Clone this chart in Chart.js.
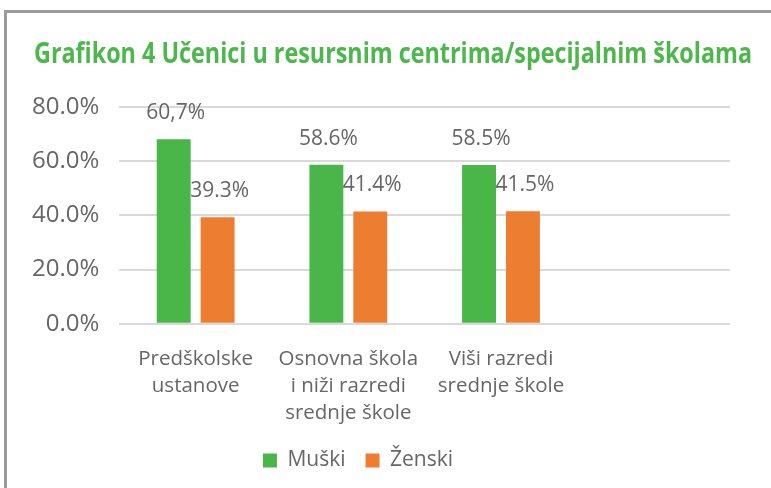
<!DOCTYPE html>
<html>
<head>
<meta charset="utf-8">
<script src="https://cdn.jsdelivr.net/npm/chart.js@4"></script>
<style>
  html, body { margin: 0; padding: 0; background: #fff; }
  #frame {
    position: absolute; left: 4px; top: 10px; width: 800px; height: 500px;
    border-left: 3px solid #9b9b9b; border-top: 3px solid #9b9b9b;
  }
  #wrap { position: absolute; left: 0; top: 0; width: 771px; height: 488px; }
</style>
</head>
<body>
<div id="frame"></div>
<div id="wrap"><canvas id="chart"></canvas></div>
<script>
// data
var title = 'Grafikon 4 Učenici u resursnim centrima/specijalnim školama';
var categories = [
    ['Predškolske', 'ustanove'],
    ['Osnovna škola', 'i niži razredi', 'srednje škole'],
    ['Viši razredi', 'srednje škole'],
    ''
];
var seriesNames = ['Muški', 'Ženski'];
var muski = [68.0, 58.6, 58.5, null];
var zenski = [39.3, 41.4, 41.5, null];
var muskiLabels = ['60,7%', '58.6%', '58.5%'];
var zenskiLabels = ['39.3%', '41.4%', '41.5%'];
var yTicks = [0, 20, 40, 60, 80];

var GREEN = '#4ab649';
var ORANGE = '#ed7d31';
var TEXT = '#666666';
var FONT = '"Open Sans", sans-serif';

// value text above each bar, and nudges for title / legend boxes
var extras = {
    id: 'extras',
    afterLayout: function (chart) {
        // title is centred on the page, legend a bit left of centre
        chart.titleBlock.left += 22;
        chart.titleBlock.right += 22;
        chart.legend.left -= 13;
        chart.legend.right -= 13;
    },
    afterDatasetsDraw: function (chart) {
        var ctx = chart.ctx;
        var texts = [muskiLabels, zenskiLabels];
        ctx.save();
        ctx.fillStyle = TEXT;
        ctx.font = '21px ' + FONT;
        ctx.textAlign = 'center';
        ctx.textBaseline = 'middle';
        chart.data.datasets.forEach(function (ds, i) {
            chart.getDatasetMeta(i).data.forEach(function (bar, j) {
                if (texts[i][j] == null) return;
                ctx.fillText(texts[i][j], bar.x + 2, bar.y - 26);
            });
        });
        ctx.restore();
    }
};

new Chart('chart', {
    type: 'bar',
    data: {
        labels: categories,
        datasets: [{
            label: seriesNames[0],
            data: muski,
            backgroundColor: GREEN,
            categoryPercentage: 0.575,
            barPercentage: 0.773
        }, {
            label: seriesNames[1],
            data: zenski,
            backgroundColor: ORANGE,
            categoryPercentage: 0.575,
            barPercentage: 0.773
        }]
    },
    options: {
        responsive: true,
        maintainAspectRatio: false,
        animation: false,
        layout: { padding: { left: 12, right: 41, top: 16, bottom: 7 } },
        scales: {
            x: {
                grid: { display: false, drawTicks: false },
                border: { display: false },
                ticks: {
                    color: TEXT,
                    font: { family: FONT, size: 20.5, lineHeight: 1.32 },
                    padding: 22,
                    maxRotation: 0
                },
                afterFit: function (axis) { axis.height -= 19; }
            },
            y: {
                min: 0,
                max: 80,
                afterBuildTicks: function (axis) {
                    axis.ticks = yTicks.map(function (v) { return { value: v }; });
                },
                grid: { color: '#d9d9d9', lineWidth: 2, drawTicks: false },
                border: { display: false },
                ticks: {
                    color: TEXT,
                    font: { family: FONT, size: 24 },
                    padding: 20,
                    callback: function (v) { return v.toFixed(1) + '%'; }
                }
            }
        },
        plugins: {
            title: {
                display: true,
                text: title,
                color: '#4cb84b',
                font: { family: '"Liberation Sans Narrow", "Open Sans", sans-serif', size: 29, weight: 'bold' },
                padding: { top: 21, bottom: 35 }
            },
            legend: {
                position: 'bottom',
                labels: {
                    color: TEXT,
                    font: { family: FONT, size: 21, lineHeight: 1.0 },
                    boxWidth: 14,
                    boxHeight: 14,
                    padding: 20
                }
            },
            tooltip: { enabled: false }
        }
    },
    plugins: [extras]
});
</script>
</body>
</html>
